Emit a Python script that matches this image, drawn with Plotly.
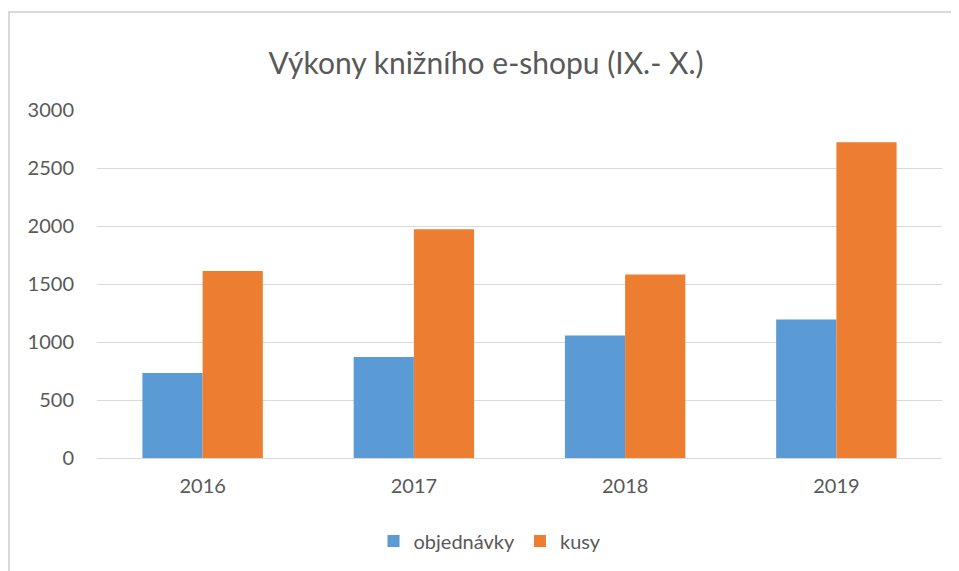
import plotly.graph_objects as go

years = ["2016", "2017", "2018", "2019"]
objednavky = [733, 871, 1056, 1194]
kusy = [1613, 1971, 1582, 2721]
y_ticks = [0, 500, 1000, 1500, 2000, 2500, 3000]

FONT = "Lato, 'Open Sans', sans-serif"
TXT = "#595959"

fig = go.Figure()
fig.add_trace(go.Bar(name="objednávky", x=years, y=objednavky,
                     marker=dict(color="#5B9BD5", line=dict(width=0))))
fig.add_trace(go.Bar(name="kusy", x=years, y=kusy,
                     marker=dict(color="#ED7D31", line=dict(width=0))))

W, H = 959, 571
OFF = 8  # page body margin offset
# desired plot area in screenshot pixels
PX0, PX1, PY0, PY1 = 97, 942, 110, 458
L = PX0 - OFF
R = W - (PX1 - OFF)
T = PY0 - OFF
B = H - (PY1 - OFF)
pw = PX1 - PX0
ph = PY1 - PY0

def paper_x(sx):
    return (sx - PX0) / pw

def paper_y(sy):
    return (PY1 - sy) / ph

fig.update_layout(
    width=W, height=H,
    margin=dict(l=L, r=R, t=T, b=B, pad=0),
    paper_bgcolor="white", plot_bgcolor="white",
    barmode="group", bargap=0.43, bargroupgap=0,
    font=dict(family=FONT, color=TXT, size=20),
    title=dict(text="Výkony knižního e-shopu (IX.- X.)",
               font=dict(family=FONT, size=30, color=TXT),
               x=(486 - OFF) / W, xref="container", xanchor="center",
               y=1 - (63 - OFF) / H, yref="container", yanchor="middle"),
    legend=dict(orientation="h", x=paper_x(490), xanchor="center",
                y=paper_y(541), yanchor="middle",
                font=dict(family=FONT, size=20, color=TXT),
                itemwidth=30, traceorder="normal"),
    showlegend=True,
    shapes=[dict(type="rect", xref="paper", yref="paper",
                 x0=paper_x(9), x1=1.3, y0=-0.6, y1=paper_y(12),
                 line=dict(color="#D9D9D9", width=2), layer="below")],
)
fig.update_xaxes(showgrid=False, showline=True, linecolor="#D9D9D9", linewidth=1,
                 ticks="", ticklabelstandoff=10,
                 tickfont=dict(family=FONT, size=20, color=TXT))
fig.update_yaxes(range=[0, 3000], tickvals=y_ticks, showgrid=True,
                 gridcolor="#D9D9D9", gridwidth=1, zeroline=False,
                 showline=False, ticks="", ticklabelstandoff=22,
                 tickfont=dict(family=FONT, size=20, color=TXT))

fig.write_html("out.html")
